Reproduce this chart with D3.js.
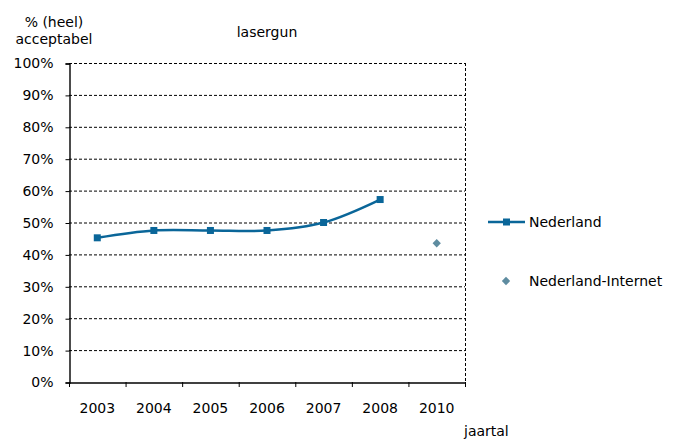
<!DOCTYPE html>
<html>
<head>
<meta charset="utf-8">
<script src="https://cdn.jsdelivr.net/npm/d3@7"></script>
<style>
  body { margin: 0; background: #fff; }
  svg { font-family: "DejaVu Sans", Verdana, sans-serif; }
</style>
</head>
<body>
<svg id="chart" width="682" height="443"></svg>
<script>
// data
const years = ['2003', '2004', '2005', '2006', '2007', '2008', '2010'];
const nederland = [45.2, 47.5, 47.5, 47.5, 50.0, 57.2, null];
const nederlandInternet = [null, null, null, null, null, null, 43.5];
const yTicks = [0, 10, 20, 30, 40, 50, 60, 70, 80, 90, 100];

const lineColor = '#0A6699';
const diamondColor = '#5E8CA0';
const fontSize = 14;

const margin = { left: 69, right: 217, top: 63, bottom: 61 };
const width = 682, height = 443;

const svg = d3.select('#chart');

const x = d3.scaleBand()
  .domain(years)
  .range([margin.left, width - margin.right]);

const y = d3.scaleLinear()
  .domain([0, 100])
  .range([height - margin.bottom, margin.top]);

// gridlines
svg.append('g')
  .selectAll('line')
  .data(yTicks.filter((d) => d > 0))
  .join('line')
  .attr('x1', margin.left)
  .attr('x2', width - margin.right)
  .attr('y1', (d) => y(d) + 0.5)
  .attr('y2', (d) => y(d) + 0.5)
  .attr('stroke', '#000')
  .attr('stroke-width', 1)
  .attr('stroke-dasharray', '3,2');

// right border dashed
svg.append('line')
  .attr('x1', width - margin.right + 0.5)
  .attr('x2', width - margin.right + 0.5)
  .attr('y1', margin.top)
  .attr('y2', height - margin.bottom)
  .attr('stroke', '#000')
  .attr('stroke-dasharray', '3,2');

// y axis
const yAxis = svg.append('g')
  .attr('transform', `translate(${margin.left + 0.5},0.5)`)
  .call(d3.axisLeft(y).tickValues(yTicks).tickFormat((d) => d + '%').tickSize(4).tickPadding(12));
yAxis.attr('font-family', null).attr('font-size', fontSize);
yAxis.select('.domain').attr('stroke', '#000').attr('stroke-width', 1.4);
yAxis.selectAll('text').attr('fill', '#000');

// x axis: ticks at category boundaries
const xAxis = svg.append('g')
  .attr('transform', `translate(0,${height - margin.bottom + 0.5})`)
  .call(d3.axisBottom(x).tickSize(0).tickPadding(21));
xAxis.attr('font-family', null).attr('font-size', fontSize);
xAxis.select('.domain').attr('stroke', '#000').attr('stroke-width', 1.4);
xAxis.selectAll('text').attr('fill', '#000');

svg.append('g')
  .selectAll('line')
  .data(years.concat(['end']))
  .join('line')
  .attr('x1', (d, i) => (i < years.length ? x(d) : x.range()[1]) + 0.5)
  .attr('x2', (d, i) => (i < years.length ? x(d) : x.range()[1]) + 0.5)
  .attr('y1', height - margin.bottom)
  .attr('y2', height - margin.bottom + 5)
  .attr('stroke', '#000');

// Nederland line
const ptsNL = years
  .map((yr, i) => ({ yr, v: nederland[i] }))
  .filter((d) => d.v != null);

const line = d3.line()
  .x((d) => x(d.yr) + x.bandwidth() / 2)
  .y((d) => y(d.v))
  .curve(d3.curveCatmullRom.alpha(0.5));

svg.append('path')
  .datum(ptsNL)
  .attr('d', line)
  .attr('fill', 'none')
  .attr('stroke', lineColor)
  .attr('stroke-width', 2.5);

svg.append('g')
  .selectAll('rect')
  .data(ptsNL)
  .join('rect')
  .attr('x', (d) => x(d.yr) + x.bandwidth() / 2 - 3.5)
  .attr('y', (d) => y(d.v) - 3.5)
  .attr('width', 7)
  .attr('height', 7)
  .attr('fill', lineColor);

// Nederland-Internet diamonds
const ptsNI = years
  .map((yr, i) => ({ yr, v: nederlandInternet[i] }))
  .filter((d) => d.v != null);

const diamond = d3.symbol().type(d3.symbolDiamond2).size(44);

svg.append('g')
  .selectAll('path')
  .data(ptsNI)
  .join('path')
  .attr('d', diamond)
  .attr('transform', (d) => `translate(${x(d.yr) + x.bandwidth() / 2},${y(d.v)})`)
  .attr('fill', diamondColor);

// titles
svg.append('text')
  .attr('x', 267)
  .attr('y', 37)
  .attr('text-anchor', 'middle')
  .attr('font-size', fontSize)
  .text('lasergun');

svg.append('text')
  .attr('x', 54)
  .attr('y', 27)
  .attr('text-anchor', 'middle')
  .attr('font-size', fontSize)
  .text('% (heel)');

svg.append('text')
  .attr('x', 54)
  .attr('y', 44)
  .attr('text-anchor', 'middle')
  .attr('font-size', fontSize)
  .text('acceptabel');

svg.append('text')
  .attr('x', 464)
  .attr('y', 436)
  .attr('font-size', fontSize)
  .text('jaartal');

// legend
const legend = svg.append('g');
legend.append('line')
  .attr('x1', 488).attr('x2', 525)
  .attr('y1', 222).attr('y2', 222)
  .attr('stroke', lineColor).attr('stroke-width', 2.5);
legend.append('rect')
  .attr('x', 503).attr('y', 218.5)
  .attr('width', 7).attr('height', 7)
  .attr('fill', lineColor);
legend.append('text')
  .attr('x', 529).attr('y', 227)
  .attr('font-size', fontSize)
  .text('Nederland');

legend.append('path')
  .attr('d', diamond)
  .attr('transform', 'translate(506,281)')
  .attr('fill', diamondColor);
legend.append('text')
  .attr('x', 529).attr('y', 286)
  .attr('font-size', fontSize)
  .text('Nederland-Internet');
</script>
</body>
</html>
